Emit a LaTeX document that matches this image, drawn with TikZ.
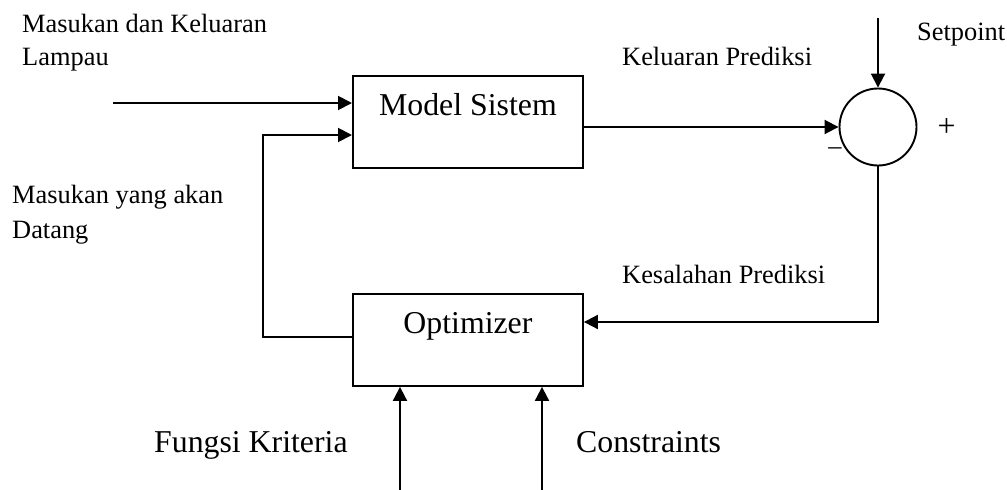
\documentclass[tikz,border=0pt]{standalone}
\usepackage{fontspec}
\setmainfont{Liberation Serif}
\usetikzlibrary{arrows.meta}
\begin{document}
\begin{tikzpicture}[x=1pt,y=-1pt,
  blk/.style={draw,line width=1.9pt,minimum width=230pt,inner sep=0pt,
    text height=40pt,text depth=52pt,anchor=north west,font=\fontsize{31.8}{38}\selectfont},
  lbl/.style={anchor=base west,inner sep=0pt,font=\fontsize{26.4}{33}\selectfont},
  big/.style={anchor=base west,inner sep=0pt,font=\fontsize{31.8}{38}\selectfont},
  conn/.style={line width=1.9pt,-{Triangle[length=14pt,width=14pt]}},
  sumst/.style={circle,draw,line width=1.9pt,minimum size=77pt,inner sep=0pt}]
\path[use as bounding box] (0,0) rectangle (1007,490);
% blocks
\node[blk] (model) at (352,75) {Model Sistem};
\node[blk] (opt) at (352,293) {Optimizer};
\node[sumst] (sum) at (878,127) {};
% free ends
\coordinate (in0) at (113,103);
\coordinate (sp) at (878,18);
\coordinate (c1) at (878,322);
\coordinate (c2) at (263,337);
\coordinate (c3) at (263,135);
\coordinate (f1) at (400,490);
\coordinate (f2) at (542,490);
% connectors
\draw[conn] (in0) -- (in0 -| model.west);
\draw[conn] (model.east |- sum.west) -- (sum.west);
\draw[conn] (sp) -- (sum.north);
\draw[conn] (sum.south) -- (c1) -- (c1 -| opt.east);
\draw[conn] (opt.west |- c2) -- (c2) -- (c3) -- (c3 -| model.west);
\draw[conn] (f1) -- (f1 |- opt.south);
\draw[conn] (f2) -- (f2 |- opt.south);
% labels
\node[lbl] (l1) at (22,32) {Masukan dan Keluaran};
\node[lbl] (l2) at (22,65) {Lampau};
\node[lbl] (l3) at (12,203) {Masukan yang akan};
\node[lbl] (l4) at (12,238) {Datang};
\node[lbl] (l5) at (622,65) {Keluaran Prediksi};
\node[lbl] (l6) at (622,283) {Kesalahan Prediksi};
\node[lbl] (l7) at (917,40) {Setpoint};
\node[inner sep=0pt,font=\fontsize{31.8}{38}\selectfont] (plus) at (946.5,127.5) {+};
\node[inner sep=0pt,font=\fontsize{26.4}{33}\selectfont] (minus) at (835,151) {–};
\node[big] (l8) at (154,452) {Fungsi Kriteria};
\node[big] (l9) at (576,452) {Constraints};
\end{tikzpicture}
\end{document}
